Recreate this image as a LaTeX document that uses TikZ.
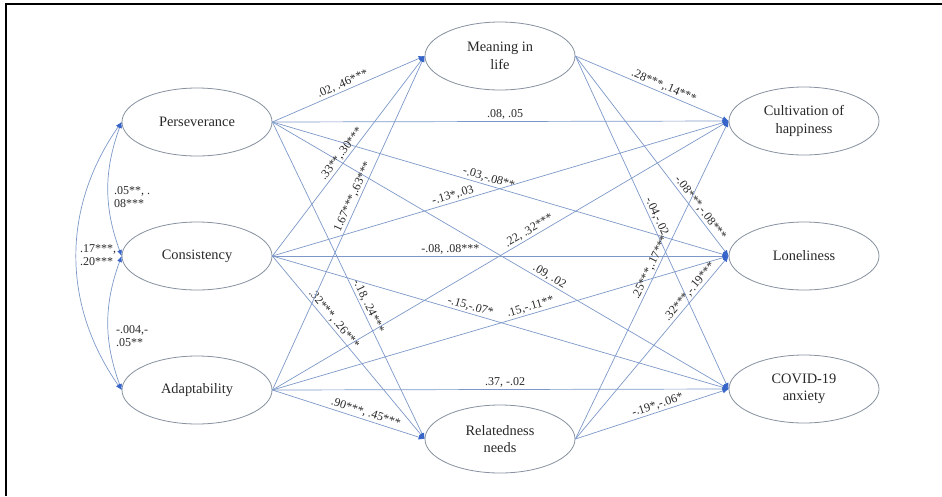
\documentclass[tikz,border=0pt]{standalone}
\usepackage{fontspec}
\setmainfont{Liberation Serif}
\usetikzlibrary{arrows.meta,shapes.geometric}
\definecolor{linecol}{RGB}{125,152,200}
\definecolor{tipcol}{RGB}{55,100,200}
\definecolor{ovalcol}{RGB}{135,145,160}
\definecolor{textcol}{RGB}{40,40,40}

\begin{document}
\begin{tikzpicture}[x=1pt,y=-1pt,
  latent/.style={ellipse,draw=ovalcol,line width=0.8pt,minimum width=150pt,minimum height=68pt,
    align=center,text=textcol,font=\fontsize{14.4}{17.5}\selectfont},
  link/.style={draw=linecol,line width=0.7pt,-{Latex[length=6pt,width=5pt,color=tipcol]}},
  corr/.style={draw=linecol,line width=0.7pt,
    {Latex[length=6pt,width=5pt,color=tipcol]}-{Latex[length=6pt,width=5pt,color=tipcol]}},
  coef/.style={sloped,above,inner sep=1.5pt,text=textcol,font=\fontsize{12}{13.5}\selectfont},
  corrlab/.style={anchor=west,align=left,inner sep=0pt,text=textcol,font=\fontsize{12}{13}\selectfont}]
\useasboundingbox (0,0) rectangle (942,496);
\draw[line width=2pt] (5.5,496) -- (5.5,4) -- (942,4);

% predictors
\node[latent] (per) at (197,122) {Perseverance};
\node[latent] (con) at (197,256) {Consistency};
\node[latent] (ada) at (197,390) {Adaptability};
% mediators
\node[latent] (mil) at (500,56) {Meaning in\\life};
\node[latent] (rel) at (500,439) {Relatedness\\needs};
% outcomes
\node[latent] (hap) at (804,121) {Cultivation of\\happiness};
\node[latent] (lon) at (804,256) {Loneliness};
\node[latent] (cov) at (804,389) {COVID-19\\anxiety};

% correlations
\draw[corr] (per.west) to[bend right=20] (con.west);
\draw[corr] (con.west) to[bend right=20] (ada.west);
\draw[corr] (per.west) to[bend right=35] (ada.west);
\node[corrlab] (c1) at (114,197) {.05**, .\\08***};
\node[corrlab] (c2) at (80,255) {.17***,\\.20***};
\node[corrlab] (c3) at (116,336) {-.004,-\\.05**};

% perseverance
\draw[link] (per.east) -- node[coef,pos=.48] {.02, .46***} (mil.west);
\draw[link] (per.east) -- node[coef,pos=.51] {.08, .05} (hap.west);
\draw[link] (per.east) -- node[coef,pos=.47] {-.03,-.08**} (lon.west);
\draw[link] (per.east) -- node[coef,pos=.60] {.09, .02} (cov.west);
\draw[link] (per.east) -- node[coef,pos=.59] {-.18, .24***} (rel.west);

% consistency
\draw[link] (con.east) -- node[coef,pos=.49] {.33**,.30***} (mil.west);
\draw[link] (con.east) -- node[coef,pos=.40] {-.13*,.03} (hap.west);
\draw[link] (con.east) -- node[coef,pos=.39] {-.08, .08***} (lon.west);
\draw[link] (con.east) -- node[coef,pos=.43] {-.15,-.07*} (cov.west);
\draw[link] (con.east) -- node[coef,pos=.37] {.32***, .26***} (rel.west);

% adaptability
\draw[link] (ada.east) -- node[coef,pos=.57] {1.67***,.63***} (mil.west);
\draw[link] (ada.east) -- node[coef,pos=.57] {.22, .32***} (hap.west);
\draw[link] (ada.east) -- node[coef,pos=.57] {.15,-.11**} (lon.west);
\draw[link] (ada.east) -- node[coef,pos=.51] {.37, -.02} (cov.west);
\draw[link] (ada.east) -- node[coef,pos=.60] {.90***, .45***} (rel.west);

% meaning in life
\draw[link] (mil.east) -- node[coef,pos=.56] {.28***,.14***} (hap.west);
\draw[link] (mil.east) -- node[coef,pos=.78] {-.08***,-.08***} (lon.west);
\draw[link] (mil.east) -- node[coef,pos=.49] {-.04,-.02} (cov.west);

% relatedness needs
\draw[link] (rel.east) -- node[coef,pos=.53] {.25***,.17***} (hap.west);
\draw[link] (rel.east) -- node[coef,pos=.78] {.32***,-.19***} (lon.west);
\draw[link] (rel.east) -- node[coef,pos=.55] {-.19*,-.06*} (cov.west);
\end{tikzpicture}
\end{document}
